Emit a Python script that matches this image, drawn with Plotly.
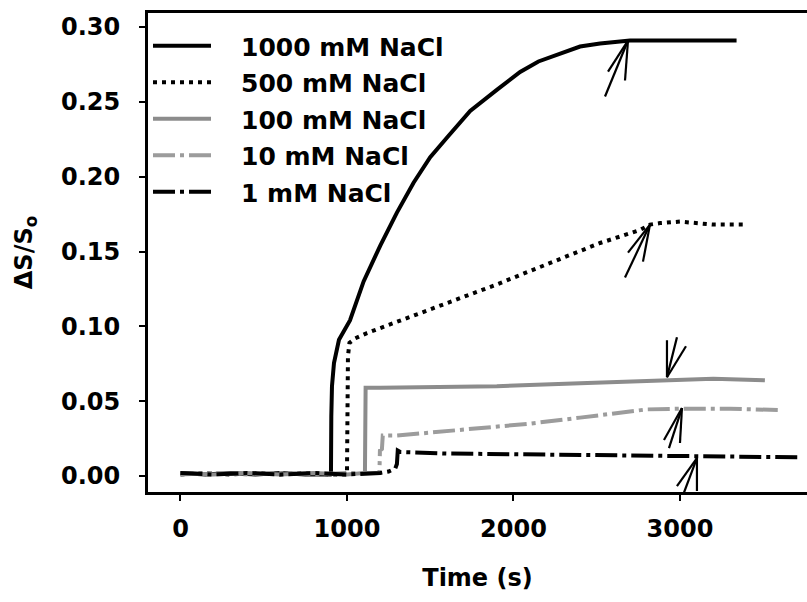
import plotly.graph_objects as go

# ---------------- data ----------------
series_names = ["1000 mM NaCl", "500 mM NaCl", "100 mM NaCl", "10 mM NaCl", "1 mM NaCl"]

t_1000 = [0, 150, 300, 450, 600, 750, 900, 904, 906, 910, 922, 952, 1018, 1100, 1200, 1300,
          1400, 1500, 1600, 1740, 1900, 2040, 2150, 2250, 2400, 2520, 2700, 2900, 3100, 3340]
v_1000 = [0.002, 0.001, 0.002, 0.001, 0.002, 0.001, 0.001, 0.002, 0.040, 0.060, 0.0755, 0.091,
          0.104, 0.130, 0.154, 0.176, 0.196, 0.213, 0.226, 0.244, 0.258, 0.270, 0.277, 0.281,
          0.287, 0.289, 0.291, 0.291, 0.291, 0.291]

t_500 = [0, 150, 300, 450, 600, 750, 900, 1000, 1003, 1006, 1015, 1050, 1120, 1216, 1336, 1500,
         1700, 1900, 2100, 2300, 2400, 2520, 2640, 2760, 2820, 2880, 3000, 3100, 3200, 3380]
v_500 = [0.001, 0.002, 0.001, 0.002, 0.001, 0.002, 0.001, 0.001, 0.040, 0.080, 0.089, 0.092,
         0.0955, 0.0995, 0.104, 0.111, 0.119, 0.128, 0.137, 0.146, 0.151, 0.1557, 0.160, 0.1644,
         0.168, 0.169, 0.170, 0.169, 0.168, 0.168]

t_100 = [0, 200, 400, 600, 800, 1000, 1108, 1110, 1112, 1200, 1500, 1900, 2400, 2900, 3200, 3510]
v_100 = [0.002, 0.001, 0.002, 0.001, 0.002, 0.001, 0.002, 0.030, 0.059, 0.059, 0.0595, 0.060,
         0.062, 0.064, 0.065, 0.064]

t_10 = [0, 200, 400, 600, 800, 1000, 1195, 1198, 1210, 1215, 1300, 1500, 1700, 1900, 2100,
        2400, 2600, 2800, 3000, 3300, 3610]
v_10 = [0.001, 0.002, 0.001, 0.002, 0.001, 0.002, 0.002, 0.017, 0.018, 0.027, 0.027, 0.029,
        0.031, 0.033, 0.035, 0.039, 0.042, 0.0445, 0.045, 0.045, 0.044]

t_1 = [0, 200, 400, 600, 800, 1000, 1200, 1250, 1290, 1300, 1305, 1320, 1600, 2000, 2500,
       3000, 3400, 3710]
v_1 = [0.002, 0.001, 0.002, 0.001, 0.002, 0.001, 0.002, 0.003, 0.005, 0.008, 0.017, 0.016,
       0.015, 0.0145, 0.014, 0.013, 0.0125, 0.0125]

# arrow tips (time, value) marking the end points
arrow_t = [2688, 2820, 2922, 3012, 3102]
arrow_v = [0.291, 0.168, 0.066, 0.0454, 0.012]

x_ticks = [0, 1000, 2000, 3000]
y_ticks = [0.00, 0.05, 0.10, 0.15, 0.20, 0.25, 0.30]

# ---------------- styles ----------------
FONT = "DejaVu Sans"
styles = [
    dict(color="black", width=4, dash="solid"),
    dict(color="black", width=4, dash="4px,5px"),
    dict(color="#8c8c8c", width=4, dash="solid"),
    dict(color="#9c9c9c", width=4, dash="22px,5px,4px,5px"),
    dict(color="black", width=4, dash="22px,5px,4px,5px"),
]
# pixel offsets (right, down) of the three strokes of each arrow (shaft and two barbs)
arrow_strokes = [
    [(-23, 56), (-20, 31), (-3, 40)],
    [(-25, 53), (-22, 28), (-7, 37)],
    [(0, -37), (10, -40), (19, -31)],
    [(-13, 40), (-18, 32), (-2, 35)],
    [(-15, 40), (-20, 28), (0, 33)],
]

fig = go.Figure()
data = [(t_1000, v_1000), (t_500, v_500), (t_100, v_100), (t_10, v_10), (t_1, v_1)]
for i, ((tt, vv), name) in enumerate(zip(data, series_names)):
    fig.add_trace(go.Scatter(x=tt, y=vv, mode="lines", name="\u2002\u2002" + name,
                             line=styles[i], legendgroup=name))

for at, av, strokes in zip(arrow_t, arrow_v, arrow_strokes):
    for dx, dy in strokes:
        fig.add_shape(type="line", xref="x", yref="y", xsizemode="pixel", ysizemode="pixel",
                      xanchor=at, yanchor=av, x0=0, y0=0, x1=dx, y1=-dy,
                      line=dict(color="black", width=2.2))

fig.update_layout(
    width=807, height=602,
    margin=dict(l=148, r=0, t=13, b=110),
    paper_bgcolor="white", plot_bgcolor="white",
    font=dict(family=FONT, size=24, color="black"),
    showlegend=True,
    legend=dict(x=0.0, y=0.979, xanchor="left", yanchor="top", bgcolor="rgba(0,0,0,0)",
                font=dict(family=FONT, size=25, color="black", weight="bold"),
                itemwidth=58, tracegroupgap=1, traceorder="grouped"),
)
fig.update_xaxes(
    range=[-195, 3763], tickvals=x_ticks, ticktext=[str(v) for v in x_ticks],
    showline=True, linecolor="black", linewidth=3, mirror=True,
    ticks="outside", ticklen=6, tickwidth=2, tickcolor="black",
    showgrid=False, zeroline=False,
    tickfont=dict(family=FONT, size=24, color="black", weight="bold"),
    ticklabelstandoff=7,
    title=dict(text="Time (s)", font=dict(family=FONT, size=24, color="black", weight="bold"),
               standoff=28),
)
fig.update_yaxes(
    range=[-0.0107, 0.3094], tickvals=y_ticks, ticktext=[f"{v:.2f}" for v in y_ticks],
    showline=True, linecolor="black", linewidth=3, mirror=False,
    ticks="outside", ticklen=6, tickwidth=2, tickcolor="black",
    showgrid=False, zeroline=False,
    tickfont=dict(family=FONT, size=24, color="black", weight="bold"),
    ticklabelstandoff=14,
    title=dict(text="ΔS/S<sub>o</sub>", font=dict(family=FONT, size=24, color="black", weight="bold"),
               standoff=22),
)

fig.write_html("out.html")
